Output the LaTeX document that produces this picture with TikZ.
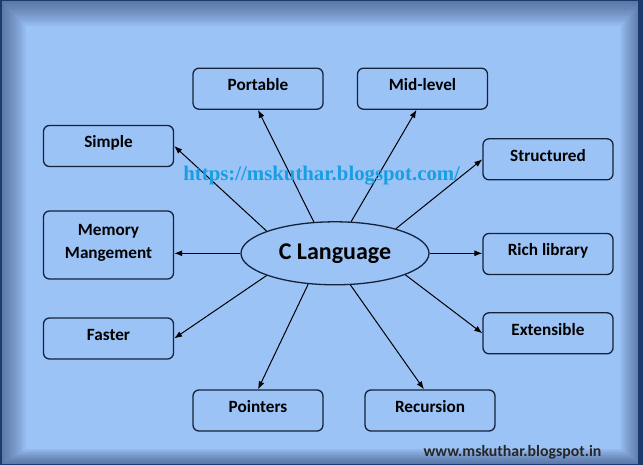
\documentclass[tikz,border=0pt]{standalone}
\usepackage{fontspec}
\setmainfont{Carlito}
\newfontfamily\urlfont{Liberation Serif}
\usetikzlibrary{arrows.meta}
\usetikzlibrary{shapes.geometric}
\definecolor{bgin}{RGB}{156,195,246}
\definecolor{bgout}{RGB}{40,62,105}
\definecolor{frame}{RGB}{28,58,112}
\definecolor{boxline}{RGB}{22,34,58}
\definecolor{urlblue}{RGB}{24,158,226}
\tikzset{
    feature/.style={draw=boxline, line width=1.3pt, rounded corners=6pt,
        minimum width=130pt, minimum height=41pt, inner sep=0pt,
        font=\fontsize{17.2}{20}\selectfont\bfseries,
        text height=10pt, text depth=6pt, align=center},
    centre/.style={ellipse, draw=boxline, line width=1.3pt,
        minimum width=188pt, minimum height=63pt, inner sep=0pt,
        font=\fontsize{24}{28}\selectfont\bfseries},
    arr/.style={line width=1pt, -{Latex[length=8pt,width=6pt]}}
}
\begin{document}
\begin{tikzpicture}[x=1pt,y=-1pt]
        \useasboundingbox (0,0) rectangle (643,465);

        % background with darker edges
        \fill[bgin] (0,0) rectangle (643,465);
        \foreach \i in {2,5,...,32}
            \fill[bgout, opacity=0.07, even odd rule] (0,0) rectangle (643,465)
                (0.8*\i,0.8*\i) rectangle (643-0.7*\i,465-0.5*\i);
        \draw[frame, line width=3pt] (0,0) rectangle (643,465);
        \fill[frame] (638,0) rectangle (643,465);

        % centre and features
        \node[centre] (cl) at (335,253.3) {C Language};

        \node[feature] (port) at (258,88.7) {Portable};
        \node[feature] (mid) at (422.5,88.7) {Mid-level};
        \node[feature] (simp) at (108.5,146) {Simple};
        \node[feature] (str) at (548,159.3) {Structured};
        \node[feature, minimum height=68pt, text height={}, text depth=8pt] (mem) at (108.5,245) {Memory\\[3pt]Mangement};
        \node[feature] (rich) at (548,254) {Rich library};
        \node[feature] (fast) at (108.5,338.5) {Faster};
        \node[feature] (ext) at (548,333.3) {Extensible};
        \node[feature] (ptr) at (258,410.5) {Pointers};
        \node[feature] (rec) at (430,410.5) {Recursion};

        % arrows
        \draw[arr] (cl.124) -- (port.south);
        \draw[arr] (cl.63) -- ([xshift=-6pt]mid.south);
        \draw[arr] (cl.162) -- (simp.east);
        \draw[arr] (cl.22) -- (str.west);
        \draw[arr] (cl.west) -- (cl.west -| mem.east);
        \draw[arr] (cl.east) -- (cl.east -| rich.west);
        \draw[arr] (cl.198) -- (fast.east);
        \draw[arr] (cl.343) -- (ext.west);
        \draw[arr] (cl.229) -- (ptr.north);
        \draw[arr] (cl.296) -- ([xshift=-6pt]rec.north);

        % watermark texts
        \node[text=urlblue, font=\urlfont\fontsize{20.8}{24}\selectfont\bfseries] (url) at (321.7,175.7) {https://mskuthar.blogspot.com/};
        \node[text=black!85, font=\fontsize{15.8}{18}\selectfont\bfseries] (site) at (512.5,452) {www.mskuthar.blogspot.in};
\end{tikzpicture}
\end{document}
